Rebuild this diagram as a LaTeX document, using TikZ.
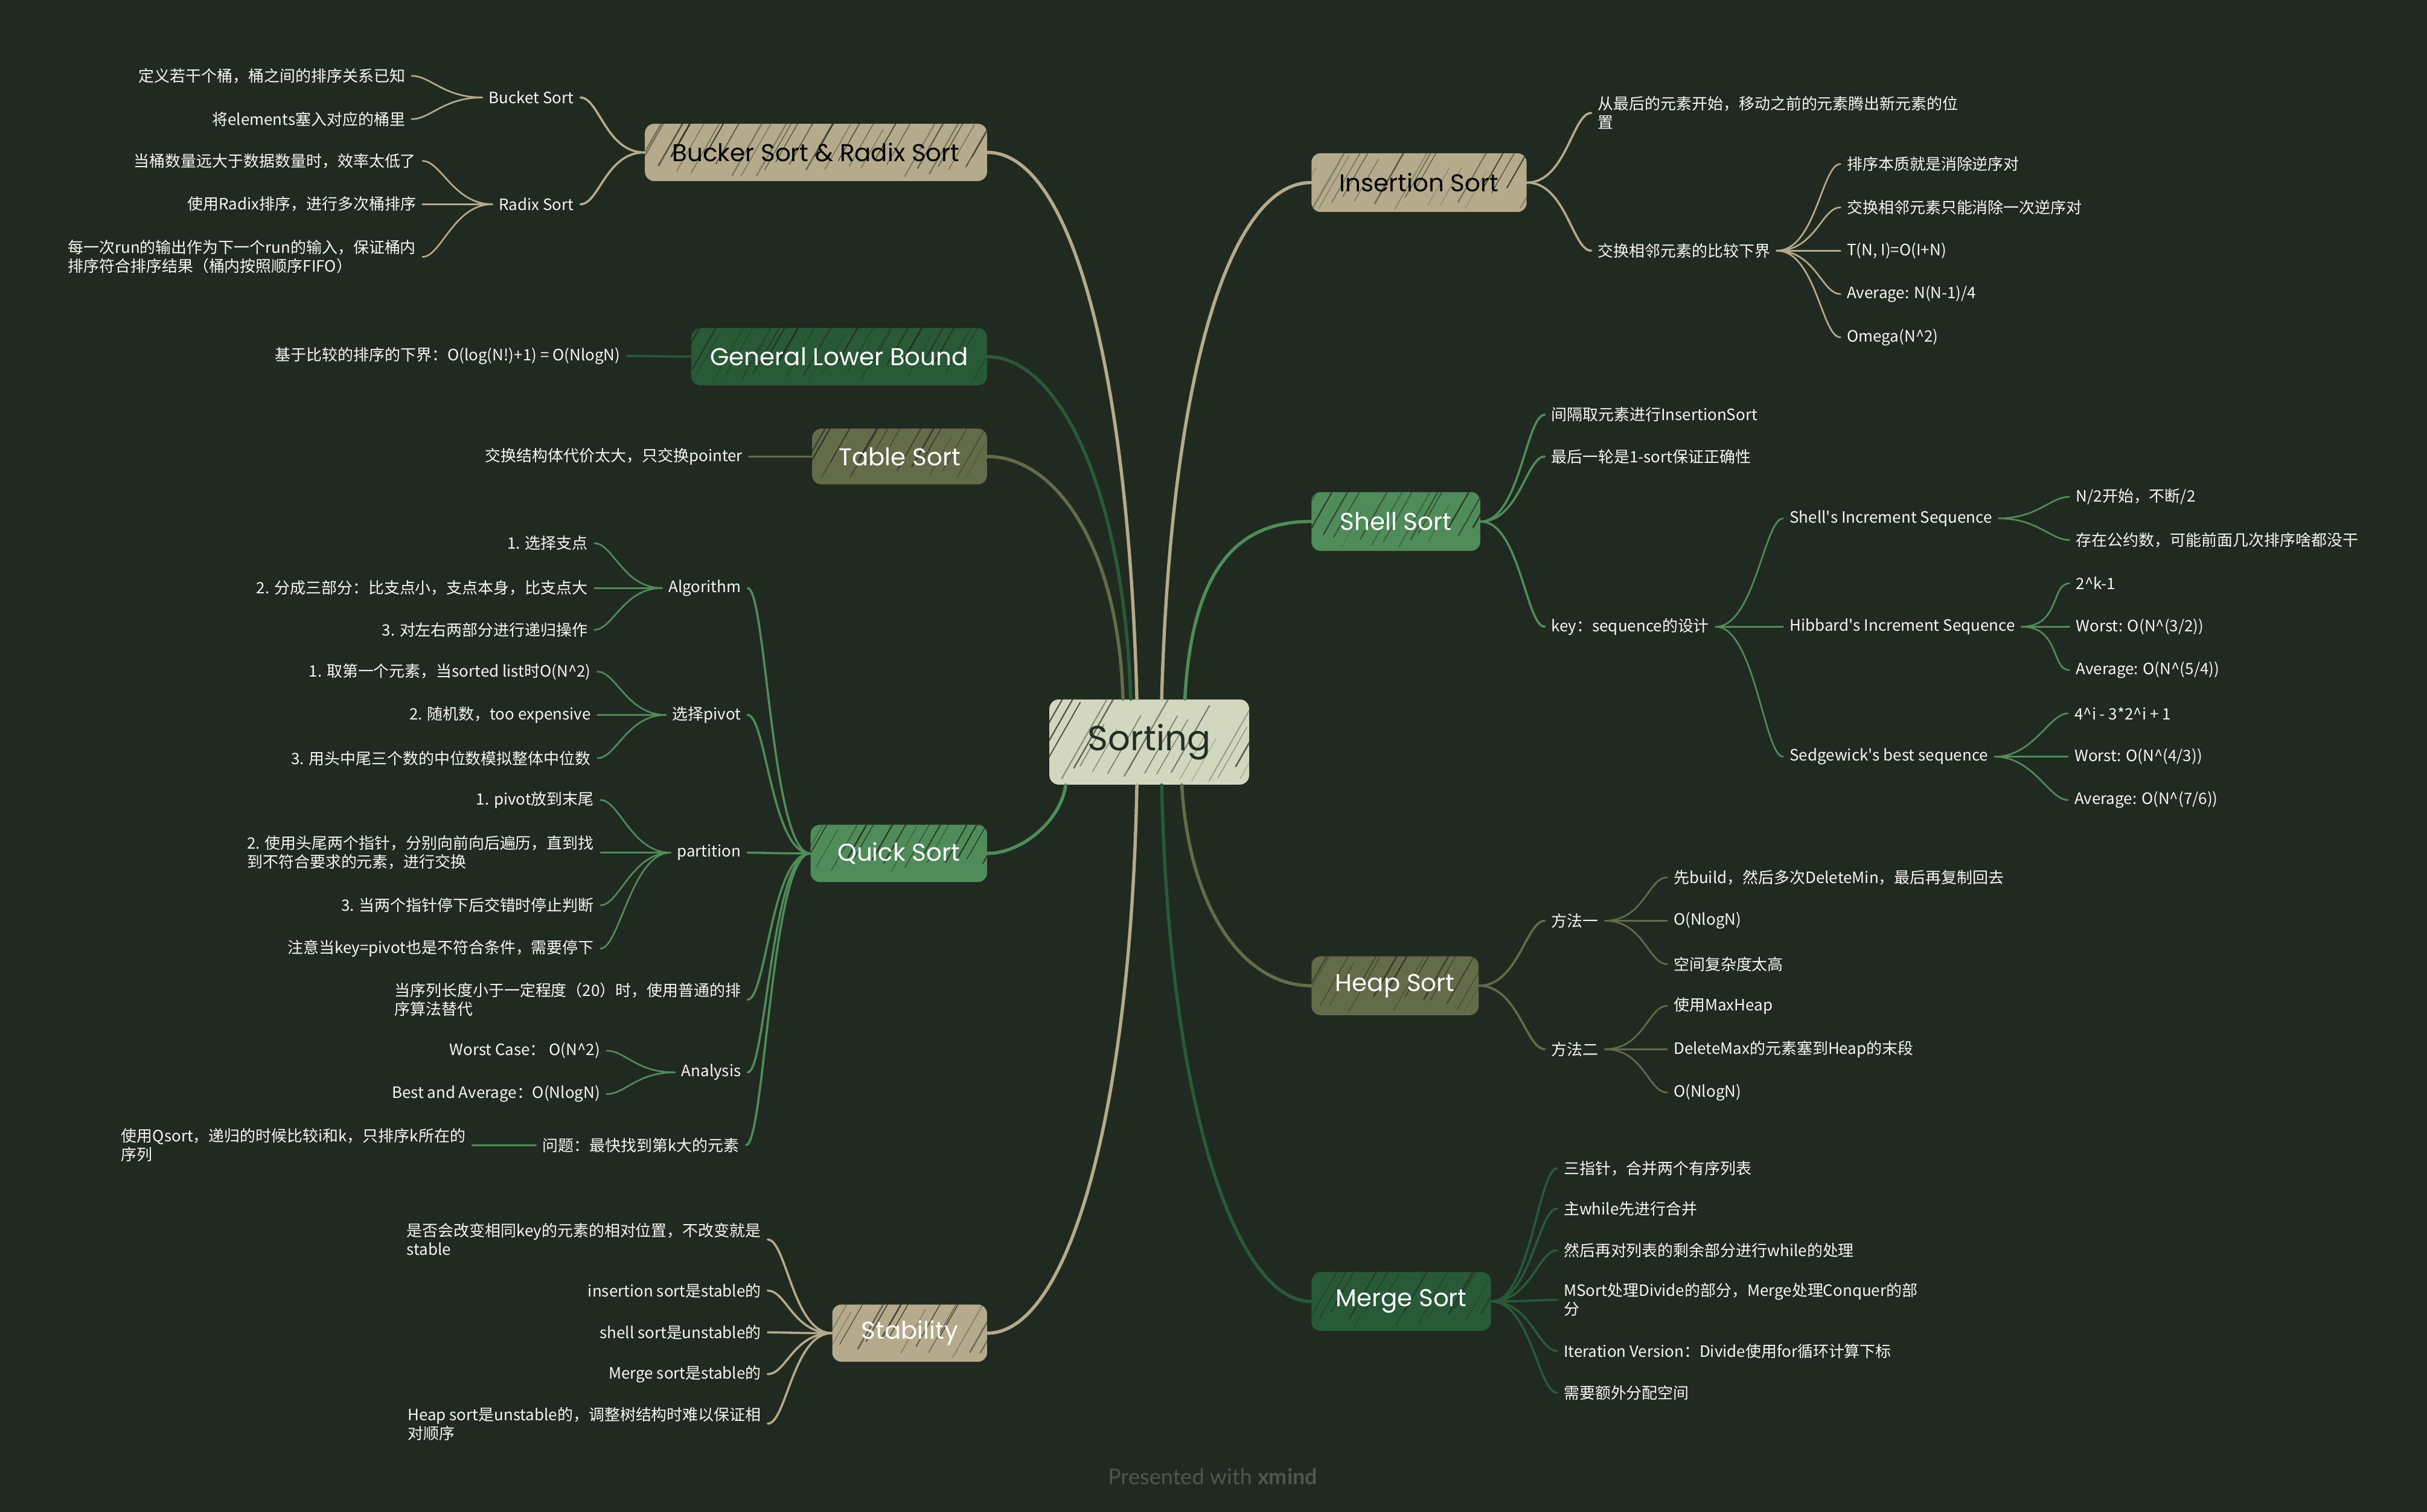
\documentclass[tikz,border=0pt]{standalone}
\usepackage{fontspec}
\setmainfont{Noto Sans CJK SC}
\newfontfamily\topicfont{Poppins}
\newfontfamily\footfont{Lato}
\usetikzlibrary{calc}
\definecolor{bgc}{RGB}{33,42,32}
\definecolor{rootc}{RGB}{211,215,192}
\definecolor{rootink}{RGB}{34,46,33}
\definecolor{tanc}{RGB}{181,170,140}
\definecolor{darkg}{RGB}{40,90,55}
\definecolor{olivec}{RGB}{99,107,73}
\definecolor{lightg}{RGB}{80,139,90}
\definecolor{leafc}{RGB}{248,248,242}
\definecolor{footc}{RGB}{76,88,72}
\newcommand\leaffont{\fontsize{7.2}{8.6}\selectfont}
\newcommand\topicsize{\topicfont\fontsize{11.2}{13}\selectfont}
\begin{document}
\begin{tikzpicture}[x=0.025cm, y=-0.025cm,
  hatch/.style={path picture={
    \foreach \i in {0,...,34}{
      \pgfmathsetmacro\ra{rnd}
      \pgfmathsetmacro\rb{rnd}
      \pgfmathsetmacro\hop{0.3+0.6*\ra}
      \pgfmathsetmacro\hlw{0.2+0.55*\rb}
      \pgfmathsetmacro\hdx{\i*8-45+6*\rb}
      \pgfmathsetmacro\hdy{-2-14*\ra}
      \pgfmathsetmacro\hlen{0.4+0.6*\rb}
      \draw[bgc, draw opacity=\hop, line width=\hlw pt, line cap=round]
        ($(path picture bounding box.south west)+(\hdx,\hdy)$) -- ++(32*\hlen,-56*\hlen);
    }}},
  topic/.style={rounded corners=0.15cm, minimum height=0.925cm, inner xsep=0.1cm,
    font=\topicsize, text=white, hatch},
  lf/.style={font=\leaffont, text=leafc, inner xsep=0.1cm, inner ysep=0.5pt, align=left},
  lfl/.style={lf, anchor=east},
  lfr/.style={lf, anchor=west},
  lconn/.style={to path={.. controls +(-25,0) and +(12,0) .. (\tikztotarget)}},
  rconn/.style={to path={.. controls +(25,0) and +(-12,0) .. (\tikztotarget)}},
  mainline/.style={line width=1.5pt, line cap=round},
  subline/.style={line width=1pt, line cap=round},
  leafline/.style={line width=0.75pt, line cap=round}]
\pgfmathsetseed{42}
\fill[bgc] (0,0) rectangle (1568,977);
\useasboundingbox (0,0) rectangle (1568,977);

% ---------- central topic and main branches ----------
\node[topic, fill=rootc, text=rootink, minimum width=3.225cm, minimum height=1.375cm,
  font=\topicfont\fontsize{16}{18}\selectfont] (sort) at (742.5,479.5) {Sorting};
\node[topic, fill=tanc, text=black, minimum width=5.525cm, anchor=east] (bucker) at (638,98.5) {Bucker Sort \& Radix Sort};
\node[topic, fill=darkg, minimum width=4.775cm, anchor=east] (glb) at (638,230.5) {General Lower Bound};
\node[topic, fill=olivec, minimum width=2.825cm, minimum height=0.9cm, anchor=east] (table) at (638,295) {Table Sort};
\node[topic, fill=lightg, minimum width=2.85cm, anchor=east] (quick) at (638,551.5) {Quick Sort};
\node[topic, fill=tanc, minimum width=2.5cm, anchor=east] (stab) at (638,861.5) {Stability};
\node[topic, fill=tanc, text=black, minimum width=3.475cm, minimum height=0.95cm, anchor=west] (ins) at (847,118) {Insertion Sort};
\node[topic, fill=lightg, minimum width=2.725cm, minimum height=0.95cm, anchor=west] (shell) at (847,337) {Shell Sort};
\node[topic, fill=olivec, minimum width=2.7cm, minimum height=0.95cm, anchor=west] (heap) at (847,637) {Heap Sort};
\node[topic, fill=darkg, minimum width=2.9cm, minimum height=0.95cm, anchor=west] (merge) at (847,841) {Merge Sort};

\draw[mainline, tanc] ($(sort.north)+(-8,0)$) .. controls +(-6,-222) and +(52,0) .. (bucker.east);
\draw[mainline, darkg] ($(sort.north)+(-12,0)$) .. controls +(-4,-132) and +(47,0) .. (glb.east);
\draw[mainline, olivec] ($(sort.north)+(-17,0)$) .. controls +(-3,-102) and +(42,0) .. (table.east);
\draw[mainline, lightg] ($(sort.south)+(-54,0)$) .. controls +(-3,23) and +(22,0) .. (quick.east);
\draw[mainline, tanc] ($(sort.south)+(-8,0)$) .. controls +(-4,213) and +(52,0) .. (stab.east);
\draw[mainline, tanc] ($(sort.north)+(8,0)$) .. controls +(6,-212) and +(-52,0) .. (ins.west);
\draw[mainline, lightg] ($(sort.north)+(23,0)$) .. controls +(5,-92) and +(-42,0) .. (shell.west);
\draw[mainline, olivec] ($(sort.south)+(21,0)$) .. controls +(5,83) and +(-42,0) .. (heap.west);
\draw[mainline, darkg] ($(sort.south)+(8,0)$) .. controls +(5,213) and +(-47,0) .. (merge.west);

% ---------- Bucket & Radix ----------
\node[lfl] (bkt) at (375,63) {Bucket Sort};
\node[lfl] (bkt1) at (266,49) {定义若干个桶，桶之间的排序关系已知};
\node[lfl] (bkt2) at (266,77) {将elements塞入对应的桶里};
\node[lfl] (rdx) at (375,132) {Radix Sort};
\node[lfl] (rdx1) at (273,104) {当桶数量远大于数据数量时，效率太低了};
\node[lfl] (rdx2) at (273,132) {使用Radix排序，进行多次桶排序};
\node[lfl] (rdx3) at (273,166) {每一次run的输出作为下一个run的输入，保证桶内\\排序符合排序结果（桶内按照顺序FIFO）};
\begin{scope}[tanc]
\draw[subline] (bucker.west) to[lconn] (bkt.east);
\draw[subline] (bucker.west) to[lconn] (rdx.east);
\foreach \c in {bkt1,bkt2} \draw[leafline] (bkt.west) to[lconn] (\c.east);
\foreach \c in {rdx1,rdx2,rdx3} \draw[leafline] (rdx.west) to[lconn] (\c.east);
\end{scope}

% ---------- General Lower Bound / Table Sort ----------
\node[lfl] (glb1) at (405,230) {基于比较的排序的下界：O(log(N!)+1) = O(NlogN)};
\draw[subline, darkg] (glb.west) -- (glb1.east);
\node[lfl] (tab1) at (484,295) {交换结构体代价太大，只交换pointer};
\draw[subline, olivec] (table.west) -- (tab1.east);

% ---------- Quick Sort ----------
\node[lfl] (alg) at (483,380) {Algorithm};
\node[lfl] (alg1) at (384,351) {1. 选择支点};
\node[lfl] (alg2) at (384,380) {2. 分成三部分：比支点小，支点本身，比支点大};
\node[lfl] (alg3) at (384,407) {3. 对左右两部分进行递归操作};
\node[lfl] (piv) at (483,462) {选择pivot};
\node[lfl] (piv1) at (386,434) {1. 取第一个元素，当sorted list时O(N\textasciicircum 2)};
\node[lfl] (piv2) at (386,462) {2. 随机数，too expensive};
\node[lfl] (piv3) at (386,490) {3. 用头中尾三个数的中位数模拟整体中位数};
\node[lfl] (par) at (483,551) {partition};
\node[lfl] (par1) at (388,517) {1. pivot放到末尾};
\node[lfl] (par2) at (388,551) {2. 使用头尾两个指针，分别向前向后遍历，直到找\\到不符合要求的元素，进行交换};
\node[lfl] (par3) at (388,585) {3. 当两个指针停下后交错时停止判断};
\node[lfl] (par4) at (388,613) {注意当key=pivot也是不符合条件，需要停下};
\node[lfl] (qsmall) at (483,646) {当序列长度小于一定程度（20）时，使用普通的排\\序算法替代};
\node[lfl] (ana) at (483,693) {Analysis};
\node[lfl] (ana1) at (392,679) {Worst Case： O(N\textasciicircum 2)};
\node[lfl] (ana2) at (392,707) {Best and Average：O(NlogN)};
\node[lfl] (kth) at (482,740) {问题：最快找到第k大的元素};
\node[lfl] (kth1) at (305,740) {使用Qsort，递归的时候比较i和k，只排序k所在的\\序列};
\begin{scope}[lightg]
\foreach \c in {alg,piv,par,qsmall,ana,kth} \draw[subline] (quick.west) to[lconn] (\c.east);
\foreach \c in {alg1,alg2,alg3} \draw[leafline] (alg.west) to[lconn] (\c.east);
\foreach \c in {piv1,piv2,piv3} \draw[leafline] (piv.west) to[lconn] (\c.east);
\foreach \c in {par1,par2,par3,par4} \draw[leafline] (par.west) to[lconn] (\c.east);
\foreach \c in {ana1,ana2} \draw[leafline] (ana.west) to[lconn] (\c.east);
\draw[leafline] (kth.west) -- (kth1.east);
\end{scope}

% ---------- Stability ----------
\node[lfl] (st1) at (496,801) {是否会改变相同key的元素的相对位置，不改变就是\\stable};
\node[lfl] (st2) at (496,834) {insertion sort是stable的};
\node[lfl] (st3) at (496,861) {shell sort是unstable的};
\node[lfl] (st4) at (496,888) {Merge sort是stable的};
\node[lfl] (st5) at (496,920) {Heap sort是unstable的，调整树结构时难以保证相\\对顺序};
\foreach \c in {st1,st2,st3,st4,st5} \draw[subline, tanc] (stab.west) to[lconn] (\c.east);

% ---------- Insertion Sort ----------
\node[lfr] (in1) at (1028,73) {从最后的元素开始，移动之前的元素腾出新元素的位\\置};
\node[lfr] (in2) at (1028,162) {交换相邻元素的比较下界};
\node[lfr] (in21) at (1189,106) {排序本质就是消除逆序对};
\node[lfr] (in22) at (1189,134) {交换相邻元素只能消除一次逆序对};
\node[lfr] (in23) at (1189,162) {T(N, I)=O(I+N)};
\node[lfr] (in24) at (1189,190) {Average: N(N-1)/4};
\node[lfr] (in25) at (1189,218) {Omega(N\textasciicircum 2)};
\begin{scope}[tanc]
\foreach \c in {in1,in2} \draw[subline] (ins.east) to[rconn] (\c.west);
\foreach \c in {in21,in22,in23,in24,in25} \draw[leafline] (in2.east) to[rconn] (\c.west);
\end{scope}

% ---------- Shell Sort ----------
\node[lfr] (sh1) at (998,268) {间隔取元素进行InsertionSort};
\node[lfr] (sh2) at (998,295) {最后一轮是1-sort保证正确性};
\node[lfr] (sh3) at (998,405) {key：sequence的设计};
\node[lfr] (sq1) at (1152,335) {Shell\textquotesingle s Increment Sequence};
\node[lfr] (sq11) at (1337,321) {N/2开始，不断/2};
\node[lfr] (sq12) at (1337,349) {存在公约数，可能前面几次排序啥都没干};
\node[lfr] (sq2) at (1152,405) {Hibbard\textquotesingle s Increment Sequence};
\node[lfr] (sq21) at (1337,377) {2\textasciicircum k-1};
\node[lfr] (sq22) at (1337,405) {Worst: O(N\textasciicircum(3/2))};
\node[lfr] (sq23) at (1337,433) {Average: O(N\textasciicircum(5/4))};
\node[lfr] (sq3) at (1152,489) {Sedgewick\textquotesingle s best sequence};
\node[lfr] (sq31) at (1336,461) {4\textasciicircum i - 3*2\textasciicircum i + 1};
\node[lfr] (sq32) at (1336,489) {Worst: O(N\textasciicircum(4/3))};
\node[lfr] (sq33) at (1336,517) {Average: O(N\textasciicircum(7/6))};
\begin{scope}[lightg]
\foreach \c in {sh1,sh2,sh3} \draw[subline] (shell.east) to[rconn] (\c.west);
\foreach \c in {sq1,sq2,sq3} \draw[leafline] (sh3.east) to[rconn] (\c.west);
\foreach \c in {sq11,sq12} \draw[leafline] (sq1.east) to[rconn] (\c.west);
\foreach \c in {sq21,sq22,sq23} \draw[leafline] (sq2.east) to[rconn] (\c.west);
\foreach \c in {sq31,sq32,sq33} \draw[leafline] (sq3.east) to[rconn] (\c.west);
\end{scope}

% ---------- Heap Sort ----------
\node[lfr] (hp1) at (998,595) {方法一};
\node[lfr] (hp11) at (1077,567) {先build，然后多次DeleteMin，最后再复制回去};
\node[lfr] (hp12) at (1077,595) {O(NlogN)};
\node[lfr] (hp13) at (1077,623) {空间复杂度太高};
\node[lfr] (hp2) at (998,678) {方法二};
\node[lfr] (hp21) at (1077,650) {使用MaxHeap};
\node[lfr] (hp22) at (1077,678) {DeleteMax的元素塞到Heap的末段};
\node[lfr] (hp23) at (1077,706) {O(NlogN)};
\begin{scope}[olivec]
\foreach \c in {hp1,hp2} \draw[subline] (heap.east) to[rconn] (\c.west);
\foreach \c in {hp11,hp12,hp13} \draw[leafline] (hp1.east) to[rconn] (\c.west);
\foreach \c in {hp21,hp22,hp23} \draw[leafline] (hp2.east) to[rconn] (\c.west);
\end{scope}

% ---------- Merge Sort ----------
\node[lfr] (mg1) at (1006,755) {三指针，合并两个有序列表};
\node[lfr] (mg2) at (1006,781) {主while先进行合并};
\node[lfr] (mg3) at (1006,808) {然后再对列表的剩余部分进行while的处理};
\node[lfr] (mg4) at (1006,840) {MSort处理Divide的部分，Merge处理Conquer的部\\分};
\node[lfr] (mg5) at (1006,873) {Iteration Version：Divide使用for循环计算下标};
\node[lfr] (mg6) at (1006,900) {需要额外分配空间};
\foreach \c in {mg1,mg2,mg3,mg4,mg5,mg6} \draw[subline, darkg] (merge.east) to[rconn] (\c.west);

% ---------- footer ----------
\node[font=\footfont\fontsize{10}{12}\selectfont, text=footc] (foot) at (783.5,954) {Presented with \textbf{xmind}};
\end{tikzpicture}
\end{document}
